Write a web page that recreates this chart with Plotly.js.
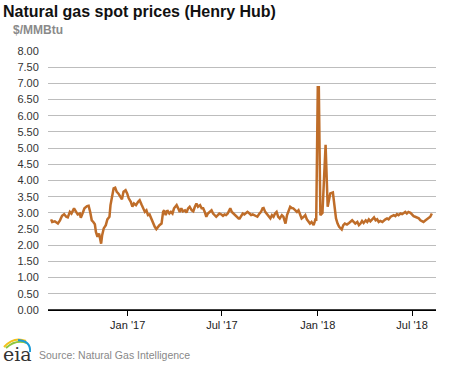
<!DOCTYPE html>
<html>
<head>
<meta charset="utf-8">
<script src="https://cdn.plot.ly/plotly-3.0.1.min.js"></script>
<style>
html,body{margin:0;padding:0;background:#fff;}
#chart{width:468px;height:366px;}
</style>
</head>
<body>
<div id="chart"></div>
<script>
const dates = [
'2016-08-07','2016-08-09','2016-08-14','2016-08-20','2016-08-24','2016-08-28','2016-09-01','2016-09-05','2016-09-08','2016-09-12',
'2016-09-15','2016-09-20','2016-09-24','2016-09-27','2016-10-01','2016-10-03','2016-10-07','2016-10-10','2016-10-15','2016-10-18',
'2016-10-21','2016-10-24','2016-10-27','2016-10-30','2016-11-01','2016-11-04','2016-11-07','2016-11-09','2016-11-11','2016-11-13',
'2016-11-16','2016-11-20','2016-11-23','2016-11-27','2016-11-29','2016-12-02','2016-12-05','2016-12-08','2016-12-11','2016-12-14',
'2016-12-18','2016-12-21','2016-12-24','2016-12-28','2016-12-31',
'2017-01-03','2017-01-07','2017-01-10','2017-01-13','2017-01-17','2017-01-21','2017-01-24','2017-01-28','2017-01-31',
'2017-02-03','2017-02-06','2017-02-09','2017-02-12','2017-02-15','2017-02-19','2017-02-22','2017-02-25','2017-02-28',
'2017-03-03','2017-03-07','2017-03-10','2017-03-12','2017-03-15','2017-03-18','2017-03-22','2017-03-25','2017-03-28','2017-03-31',
'2017-04-05','2017-04-08','2017-04-11','2017-04-14','2017-04-17','2017-04-21','2017-04-24','2017-04-27','2017-04-30',
'2017-05-04','2017-05-07','2017-05-10','2017-05-13','2017-05-16','2017-05-20','2017-05-23','2017-05-26','2017-05-29',
'2017-06-01','2017-06-04','2017-06-07','2017-06-11','2017-06-14','2017-06-17','2017-06-20','2017-06-23','2017-06-26','2017-06-30',
'2017-07-03','2017-07-06','2017-07-09','2017-07-12','2017-07-17','2017-07-20','2017-07-23','2017-07-26','2017-07-29',
'2017-08-02','2017-08-04','2017-08-07','2017-08-10','2017-08-13','2017-08-16','2017-08-19','2017-08-23','2017-08-26','2017-08-29',
'2017-09-01','2017-09-04','2017-09-07','2017-09-11','2017-09-14','2017-09-17','2017-09-19','2017-09-22','2017-09-25','2017-09-28',
'2017-10-02','2017-10-05','2017-10-08','2017-10-11','2017-10-14','2017-10-17','2017-10-20','2017-10-24','2017-10-27','2017-10-29','2017-10-31',
'2017-11-03','2017-11-06','2017-11-09','2017-11-12','2017-11-15','2017-11-19','2017-11-22','2017-11-25','2017-11-28',
'2017-12-01','2017-12-05','2017-12-08','2017-12-11','2017-12-14','2017-12-17','2017-12-20','2017-12-24','2017-12-26','2017-12-28','2017-12-29',
'2018-01-01','2018-01-03','2018-01-06','2018-01-10','2018-01-16','2018-01-20','2018-01-25','2018-01-30',
'2018-02-03','2018-02-05','2018-02-08','2018-02-11','2018-02-16','2018-02-19','2018-02-22','2018-02-26',
'2018-03-02','2018-03-05','2018-03-08','2018-03-11','2018-03-14','2018-03-18','2018-03-21','2018-03-24','2018-03-27','2018-03-30',
'2018-04-03','2018-04-06','2018-04-09','2018-04-12','2018-04-15','2018-04-19','2018-04-22','2018-04-25','2018-04-28',
'2018-05-01','2018-05-05','2018-05-08','2018-05-11','2018-05-14','2018-05-17','2018-05-21','2018-05-24','2018-05-27','2018-05-30',
'2018-06-02','2018-06-05','2018-06-09','2018-06-12','2018-06-15','2018-06-18','2018-06-21','2018-06-24','2018-06-28',
'2018-07-01','2018-07-04','2018-07-07','2018-07-11','2018-07-14','2018-07-17','2018-07-20','2018-07-23','2018-07-27','2018-07-30',
'2018-08-02','2018-08-05','2018-08-08'
];
const prices = [
2.80,2.72,2.74,2.67,2.77,2.91,2.96,2.88,2.86,3.03,
2.98,3.14,3.03,2.95,2.98,2.85,3.01,3.14,3.21,3.22,
3.03,2.77,2.72,2.65,2.41,2.26,2.36,2.21,2.05,2.31,
2.52,2.62,2.80,2.88,3.24,3.50,3.76,3.78,3.65,3.60,
3.50,3.42,3.65,3.70,3.60,
3.45,3.34,3.19,3.29,3.24,3.34,3.39,3.24,3.14,
3.03,3.08,2.93,2.95,2.83,2.64,2.57,2.50,2.57,
2.62,2.67,3.03,3.08,2.93,3.08,2.98,3.03,2.98,3.14,
3.24,3.14,3.03,3.14,3.05,3.08,3.01,3.14,3.19,
3.08,3.05,3.19,3.29,3.19,3.24,3.14,3.14,3.03,
2.88,2.98,3.03,3.08,2.98,2.91,2.88,2.93,2.98,2.95,
2.91,2.95,2.93,2.98,3.14,3.03,2.98,2.95,2.88,
2.83,2.83,2.93,2.98,2.95,2.98,3.03,2.98,2.93,2.95,
2.93,2.91,2.88,2.98,3.03,3.14,3.15,3.03,2.98,2.93,
2.83,2.93,2.88,2.98,3.03,2.88,2.83,2.93,2.88,2.77,2.67,
2.93,3.08,3.19,3.15,3.14,3.08,3.03,3.08,2.98,
2.83,2.88,2.93,2.80,2.72,2.67,2.72,2.62,2.72,2.83,2.75,
6.88,6.88,2.93,3.00,5.10,3.19,3.60,3.63,
2.93,2.83,2.67,2.57,2.49,2.62,2.67,2.64,
2.69,2.72,2.77,2.72,2.67,2.72,2.62,2.67,2.75,2.69,
2.77,2.72,2.80,2.74,2.80,2.86,2.77,2.80,2.72,
2.75,2.72,2.77,2.80,2.83,2.80,2.88,2.90,2.93,2.90,
2.96,2.93,2.98,2.96,3.00,3.03,2.98,3.03,3.00,
2.93,2.90,2.88,2.86,2.83,2.77,2.75,2.72,2.77,2.80,
2.83,2.88,2.98
];
const tickDates = ['2017-01-01','2017-07-01','2018-01-01','2018-07-01'];
const tickLabels = ["Jan '17","Jul '17","Jan '18","Jul '18"];
const yTicks = [0,0.5,1,1.5,2,2.5,3,3.5,4,4.5,5,5.5,6,6.5,7,7.5,8];

const trace = {
  x: dates, y: prices, type: 'scatter', mode: 'lines',
  line: {color: '#bf6d29', width: 2.5},
  hoverinfo: 'x+y'
};

const W = 388, H = 259;
function px(x){ return (x - 48) / W; }
function py(y){ return (310 - y) / H; }

const layout = {
  width: 468, height: 366,
  margin: {l: 48, r: 32, t: 51, b: 56},
  paper_bgcolor: '#fff', plot_bgcolor: '#fff',
  showlegend: false,
  font: {family: 'Arial, "Liberation Sans", sans-serif', size: 11, color: '#333'},
  title: {
    text: '<b>Natural gas spot prices (Henry Hub)</b>',
    font: {family: 'Arial, "Liberation Sans", sans-serif', size: 16, color: '#111'},
    xref: 'container', yref: 'container', x: 3/468, xanchor: 'left', y: 1 - 11/366, yanchor: 'middle'
  },
  xaxis: {
    type: 'date', range: ['2016-08-01', '2018-08-16'],
    tickmode: 'array', tickvals: tickDates, ticktext: tickLabels,
    ticks: 'outside', ticklen: 5, tickcolor: '#000', tickwidth: 1,
    showgrid: false, showline: true, linecolor: '#000', linewidth: 1,
    zeroline: false, tickfont: {size: 11, color: '#222'}, fixedrange: true
  },
  yaxis: {
    range: [0, 8], tickmode: 'array', tickvals: yTicks, tickformat: '.2f',
    showgrid: true, gridcolor: '#bdbdbd', gridwidth: 1,
    zeroline: false, showline: false,
    ticks: 'outside', ticklen: 6, tickcolor: 'rgba(0,0,0,0)',
    tickfont: {size: 11, color: '#333'}, fixedrange: true
  },
  annotations: [
    {text: '<b>$/MMBtu</b>', xref: 'paper', yref: 'paper', x: px(11), y: py(30),
     xanchor: 'left', yanchor: 'middle', showarrow: false,
     font: {size: 12, color: '#8a8a8a'}},
    {text: 'Source: Natural Gas Intelligence', xref: 'paper', yref: 'paper', x: px(37), y: py(355),
     xanchor: 'left', yanchor: 'middle', showarrow: false,
     font: {size: 10.5, color: '#888'}},
    {text: 'eia', xref: 'paper', yref: 'paper', x: px(1), y: py(354),
     xanchor: 'left', yanchor: 'middle', showarrow: false,
     font: {family: '"DejaVu Serif", "Liberation Serif", serif', size: 19, color: '#333'}}
  ],
  shapes: [
    {type: 'line', xref: 'paper', yref: 'paper', x0: 0, x1: 1, y0: 0, y1: 0, line: {color: '#000', width: 1.5}},
    {type: 'path', xref: 'paper', yref: 'paper',
     path: 'M ' + px(4) + ' ' + py(347) + ' Q ' + px(14) + ' ' + py(336) + ' ' + px(26) + ' ' + py(341),
     line: {color: '#f2c21b', width: 2}},
    {type: 'path', xref: 'paper', yref: 'paper',
     path: 'M ' + px(6) + ' ' + py(348) + ' Q ' + px(16) + ' ' + py(339) + ' ' + px(27) + ' ' + py(343),
     line: {color: '#8dc63f', width: 2}},
    {type: 'path', xref: 'paper', yref: 'paper',
     path: 'M ' + px(18) + ' ' + py(340) + ' Q ' + px(31) + ' ' + py(341) + ' ' + px(30) + ' ' + py(352),
     line: {color: '#1a9bd7', width: 2}}
  ]
};

Plotly.newPlot('chart', [trace], layout, {displayModeBar: false, staticPlot: true});
</script>
</body>
</html>
